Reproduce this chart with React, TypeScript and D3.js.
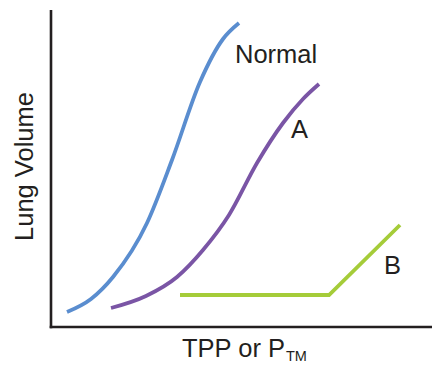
import React from "react";
import * as d3 from "d3";

const W = 432;
const H = 366;

// Lung volume vs transpulmonary pressure (arbitrary units)
const normalX = [16, 40, 62, 96, 121, 149, 172, 188];
const normalY = [15, 28, 50, 104, 167, 245, 288, 304];

const aX = [60, 95, 126, 152, 178, 206, 232, 252, 268];
const aY = [19, 31, 50, 77, 112, 164, 204, 228, 243];

const bX = [129, 278, 349];
const bY = [32, 32, 102];

const seriesNames = ["Normal", "A", "B"];
const xLabel = "TPP or P";
const xLabelSub = "TM";
const yLabel = "Lung Volume";

const x = d3.scaleLinear().domain([0, 380]).range([51, 431]);
const y = d3.scaleLinear().domain([0, 317]).range([327, 10]);

const zip = (xs: number[], ys: number[]) => xs.map((v, i) => [v, ys[i]] as [number, number]);

const smooth = d3
  .line<[number, number]>()
  .x((d) => x(d[0]))
  .y((d) => y(d[1]))
  .curve(d3.curveMonotoneX);

const straight = d3
  .line<[number, number]>()
  .x((d) => x(d[0]))
  .y((d) => y(d[1]));

const FONT = "'Liberation Sans', Arial, Helvetica, sans-serif";
const TEXT = "#231f20";

export default function App() {
  return (
    <svg
      width={W}
      height={H}
      style={{ position: "absolute", left: 0, top: 0, background: "#fff" }}
      fontFamily={FONT}
    >
      {/* axes */}
      <line x1={x(0)} x2={x(0)} y1={y(317)} y2={y(0) + 1.3} stroke={TEXT} strokeWidth={2.6} />
      <line x1={x(0) - 1.3} x2={W} y1={y(0)} y2={y(0)} stroke={TEXT} strokeWidth={2.6} />

      {/* curves */}
      <path d={smooth(zip(normalX, normalY)) || ""} fill="none" stroke="#5a8dcf" strokeWidth={3.8} />
      <path d={smooth(zip(aX, aY)) || ""} fill="none" stroke="#7a55a5" strokeWidth={3.8} />
      <path d={straight(zip(bX, bY)) || ""} fill="none" stroke="#a5cc39" strokeWidth={3.8} />

      {/* series labels */}
      <text x={235} y={63} fontSize={25.5} fill={TEXT}>{seriesNames[0]}</text>
      <text x={291} y={138} fontSize={25.5} fill={TEXT}>{seriesNames[1]}</text>
      <text x={384} y={274} fontSize={25.5} fill={TEXT}>{seriesNames[2]}</text>

      {/* axis labels */}
      <text x={182} y={357} fontSize={25.5} fill={TEXT}>
        {xLabel}
        <tspan fontSize={14.5} dy={4} dx={1}>{xLabelSub}</tspan>
      </text>
      <text
        transform={`translate(33,${166.5}) rotate(-90)`}
        textAnchor="middle"
        fontSize={25.5}
        fill={TEXT}
      >
        {yLabel}
      </text>
    </svg>
  );
}
